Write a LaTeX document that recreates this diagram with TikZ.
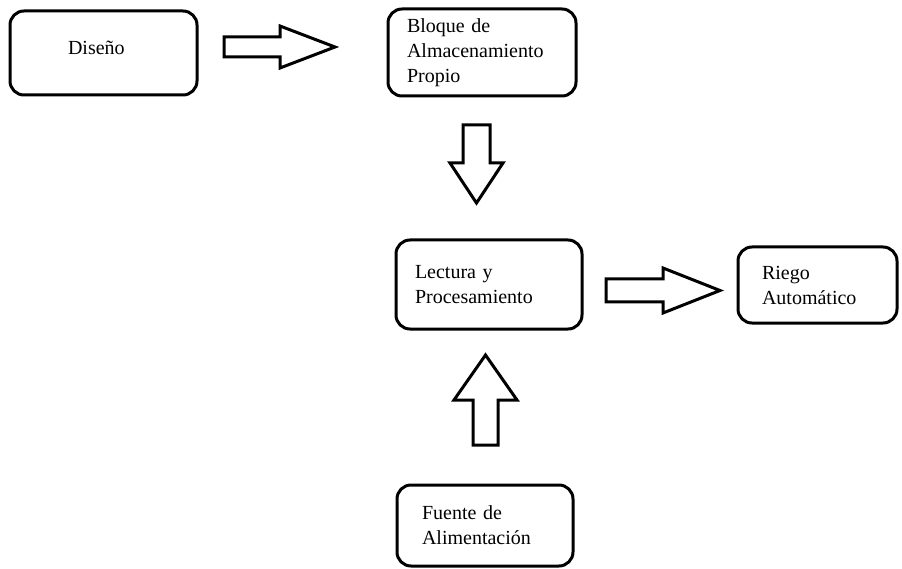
\documentclass[tikz,border=0pt]{standalone}
\usepackage{fontspec}
\setmainfont{Liberation Serif}
\usetikzlibrary{calc}
\tikzset{
  caja/.style={draw, line width=3pt, rounded corners=14pt, inner sep=0pt, align=left,
    font=\fontsize{20}{25}\selectfont},
  flecha/.style={draw, line width=3pt, line join=miter, fill=white}
}
\newcommand{\flechagorda}[5]{%
  \draw[flecha] let \p1=($(#2)-(#1)$), \n1={veclen(\x1,\y1)}, \n2={atan2(\y1,\x1)} in
    [shift={(#1)}, rotate=\n2] (0,-#3) -- (\n1-#5,-#3) -- (\n1-#5,-#4) -- (\n1,0)
    -- (\n1-#5,#4) -- (\n1-#5,#3) -- (0,#3) -- cycle;
}
\begin{document}
\begin{tikzpicture}[x=1pt,y=-1pt]
\useasboundingbox (0,0) rectangle (902,569);
\node[caja, minimum width=187, minimum height=84, text width=71] (diseno) at (103.5,53) {\raisebox{10pt}{Diseño}};
\node[caja, minimum width=188, minimum height=87, text width=150] (bloque) at (482,52.5) {Bloque de\\Almacenamiento\\Propio};
\node[caja, minimum width=186, minimum height=89, text width=148] (lectura) at (489,284.5) {Lectura y\\Procesamiento};
\node[caja, minimum width=159, minimum height=76, text width=111] (riego) at (817.5,285) {Riego\\Automático};
\node[caja, minimum width=176, minimum height=81, text width=126] (fuente) at (485,525.5) {Fuente de\\Alimentación};
\coordinate (f1a) at (224,47);
\coordinate (f1b) at (335,47);
\coordinate (f2a) at (476.5,125);
\coordinate (f2b) at (476.5,203);
\coordinate (f3a) at (485.5,445);
\coordinate (f3b) at (485.5,355);
\coordinate (f4a) at (606,290.5);
\coordinate (f4b) at (720,290.5);
\flechagorda{f1a}{f1b}{10}{21}{55}
\flechagorda{f2a}{f2b}{13.5}{26.5}{40}
\flechagorda{f3a}{f3b}{12.5}{31.5}{45}
\flechagorda{f4a}{f4b}{11.5}{22.5}{57}
\end{tikzpicture}
\end{document}
